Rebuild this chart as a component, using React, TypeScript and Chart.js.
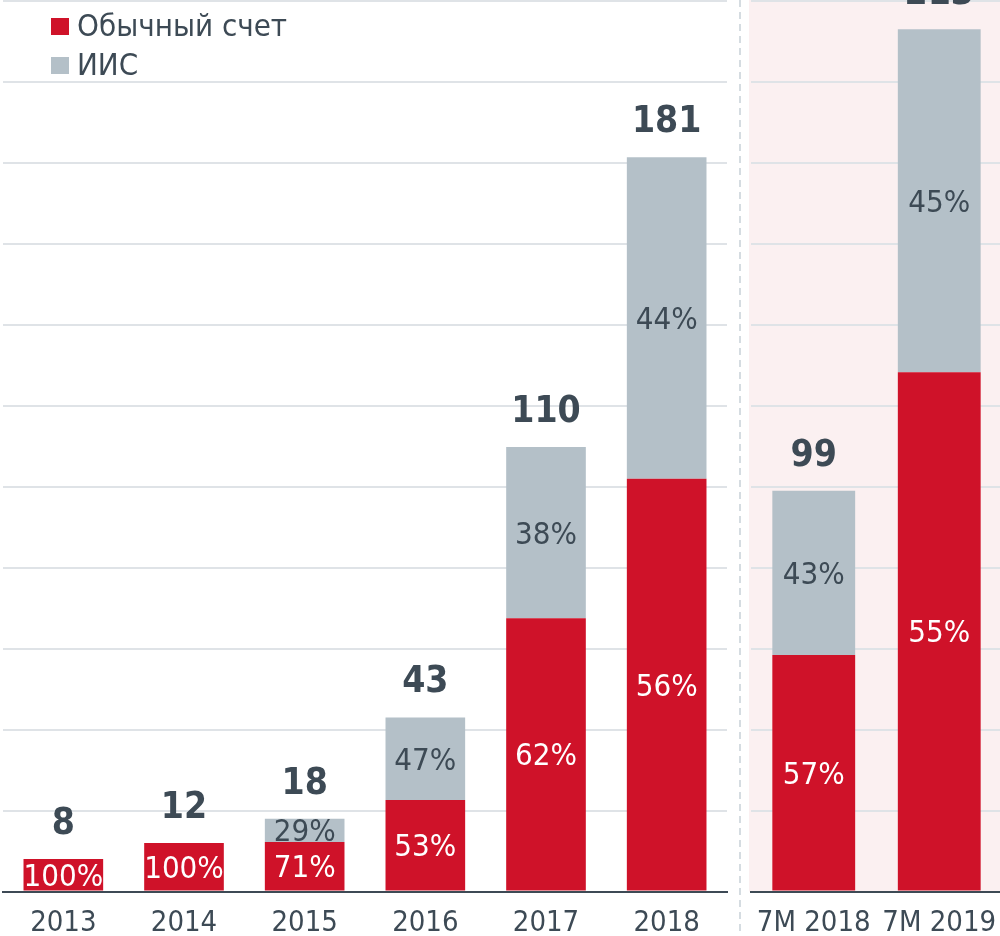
import React, { useEffect, useRef } from 'react';
import { Chart, registerables } from 'chart.js';

Chart.register(...registerables);

const categories = ['2013', '2014', '2015', '2016', '2017', '2018', '7M 2018', '7M 2019'];
const regularValues = [8, 12, 12.2, 22.6, 67.5, 102, 58.4, 128.3];
const iisValues = [0, 0, 5.8, 20.4, 42.3, 79.4, 40.6, 84.7];
const totals = [8, 12, 18, 43, 110, 181, 99, 213];
const regularShares = ['100%', '100%', '71%', '53%', '62%', '56%', '57%', '55%'];
const iisShares = ['', '', '29%', '47%', '38%', '44%', '43%', '45%'];
const legendLabels = ['Обычный счет', 'ИИС'];
const leftCount = 6;

const RED = '#cf1229';
const GRAY = '#b4c0c8';
const TEXT = '#3d4a55';
const GRID = '#dfe3e7';
const PINK = '#fbf0f1';
const SEP = '#d5dce1';
const FONT = '"DejaVu Sans Condensed", "DejaVu Sans", sans-serif';

function makePlugin(offset: number, withLegend: boolean, withPanel: boolean) {
  return {
    id: 'customDraw' + offset,
    beforeDraw(chart: any) {
      if (!withPanel) return;
      const ctx = chart.ctx;
      const ca = chart.chartArea;
      ctx.save();
      ctx.fillStyle = PINK;
      ctx.fillRect(13, 0, chart.width - 13, ca.bottom);
      ctx.strokeStyle = SEP;
      ctx.lineWidth = 2;
      ctx.setLineDash([7, 5]);
      ctx.beginPath();
      ctx.moveTo(4, 0);
      ctx.lineTo(4, chart.height);
      ctx.stroke();
      ctx.restore();
    },
    afterDatasetsDraw(chart: any) {
      const ctx = chart.ctx;
      const m0 = chart.getDatasetMeta(0);
      const m1 = chart.getDatasetMeta(1);
      ctx.save();
      ctx.textAlign = 'center';
      m0.data.forEach((bar: any, i: number) => {
        const gi = offset + i;
        const r = bar.getProps(['x', 'y', 'base'], true);
        const g = m1.data[i].getProps(['x', 'y', 'base'], true);
        ctx.font = `31px ${FONT}`;
        ctx.textBaseline = 'middle';
        ctx.fillStyle = '#ffffff';
        ctx.fillText(regularShares[gi], r.x, (r.y + r.base) / 2 + 3);
        if (iisShares[gi]) {
          ctx.fillStyle = TEXT;
          ctx.fillText(iisShares[gi], g.x, (g.y + g.base) / 2 + 3);
        }
        ctx.font = `bold 37px ${FONT}`;
        ctx.textBaseline = 'alphabetic';
        ctx.fillStyle = TEXT;
        ctx.fillText(String(totals[gi]), g.x, Math.min(g.y, r.y) - 25);
      });
      ctx.restore();
    },
    afterDraw(chart: any) {
      if (!withLegend) return;
      const ctx = chart.ctx;
      ctx.save();
      const colors = [RED, GRAY];
      const ys = [27, 66];
      legendLabels.forEach((lab, i) => {
        ctx.fillStyle = colors[i];
        ctx.fillRect(51, ys[i] - 9, 18, 17);
        ctx.fillStyle = TEXT;
        ctx.font = `31px ${FONT}`;
        ctx.textAlign = 'left';
        ctx.textBaseline = 'middle';
        ctx.fillText(lab, 77, ys[i] + 1);
      });
      ctx.restore();
    },
  };
}

function makeConfig(start: number, end: number, padLeft: number, padRight: number, withLegend: boolean, withPanel: boolean): any {
  return {
    type: 'bar',
    data: {
      labels: categories.slice(start, end),
      datasets: [
        {
          label: legendLabels[0],
          data: regularValues.slice(start, end),
          backgroundColor: RED,
          borderWidth: 0,
          barPercentage: 1,
          categoryPercentage: 0.66,
        },
        {
          label: legendLabels[1],
          data: iisValues.slice(start, end),
          backgroundColor: GRAY,
          borderWidth: 0,
          barPercentage: 1,
          categoryPercentage: 0.66,
        },
      ],
    },
    options: {
      responsive: false,
      animation: false,
      layout: { padding: { left: padLeft, right: padRight, top: 1, bottom: 0 } },
      plugins: { legend: { display: false }, tooltip: { enabled: false } },
      scales: {
        x: {
          stacked: true,
          grid: { display: false, drawTicks: false },
          border: { display: true, color: TEXT, width: 2 },
          ticks: { color: TEXT, font: { family: FONT, size: 29 }, padding: 15, maxRotation: 0, autoSkip: false },
          afterFit: (scale: any) => {
            scale.height = 44.5;
            scale.paddingLeft = 0;
            scale.paddingRight = 0;
          },
        },
        y: {
          stacked: true,
          min: 0,
          max: 220,
          ticks: { display: false, stepSize: 20 },
          grid: { color: GRID, lineWidth: 2, drawTicks: false },
          border: { display: false },
        },
      },
    },
    plugins: [makePlugin(start, withLegend, withPanel)],
  };
}

export default function App() {
  const leftRef = useRef<HTMLCanvasElement>(null);
  const rightRef = useRef<HTMLCanvasElement>(null);

  useEffect(() => {
    const c1 = new Chart(leftRef.current as HTMLCanvasElement, makeConfig(0, leftCount, 3, 18, true, false));
    const c2 = new Chart(rightRef.current as HTMLCanvasElement, makeConfig(leftCount, categories.length, 15, 0, false, true));
    return () => {
      c1.destroy();
      c2.destroy();
    };
  }, []);

  return (
    <div style={{ position: 'fixed', left: 0, top: 0, width: 1000, height: 936, overflow: 'hidden', background: '#ffffff' }}>
      <canvas ref={leftRef} width={745} height={936} style={{ position: 'absolute', left: 0, top: 0 }} />
      <canvas ref={rightRef} width={266} height={936} style={{ position: 'absolute', left: 736, top: 0 }} />
    </div>
  );
}
